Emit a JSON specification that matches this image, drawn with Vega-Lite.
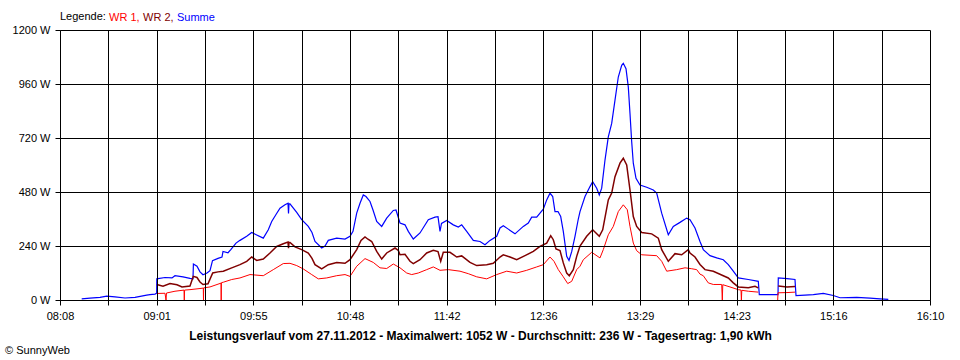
{
  "$schema": "https://vega.github.io/schema/vega-lite/v6.json",
  "width": 870,
  "height": 270,
  "autosize": "none",
  "padding": {"left": 60, "top": 30, "right": 30, "bottom": 60},
  "background": "white",
  "config": {
    "view": {"stroke": null},
    "font": "Liberation Sans"
  },
  "title": {
    "text": "© SunnyWeb",
    "orient": "bottom",
    "anchor": "start",
    "frame": "bounds",
    "font": "Liberation Sans",
    "fontSize": 11,
    "fontWeight": "normal",
    "color": "black",
    "offset": 4,
    "dx": -7
  },
  "datasets": {
    "sum": [
      {"t":500.02,"w":5},{"t":504.62,"w":8},{"t":510.16,"w":12},{"t":513.87,"w":17},{"t":518.47,"w":14},{"t":524.01,"w":9},{"t":529.55,"w":12},{"t":536.03,"w":22},{"t":537.86,"w":24},{"t":540.63,"w":26},{"t":541.57,"w":30},
      {"t":541.63,"w":94},{"t":546.17,"w":100},{"t":550.05,"w":98},{"t":551.71,"w":108},{"t":556.14,"w":103},{"t":560.02,"w":96},{"t":561.68,"w":94},{"t":561.91,"w":160},{"t":563.9,"w":150},{"t":565.56,"w":125},{"t":567.22,"w":112},{"t":569.44,"w":120},{"t":571.1,"w":130},{"t":572.49,"w":175},{"t":575.54,"w":185},{"t":577.75,"w":191},{"t":578.31,"w":216},{"t":581.08,"w":210},{"t":582.74,"w":225},{"t":585.51,"w":253},{"t":587.72,"w":265},{"t":591.44,"w":283},{"t":594.21,"w":300},{"t":596.98,"w":289},{"t":600.63,"w":275},{"t":603.4,"w":312},{"t":605.29,"w":349},{"t":607.67,"w":380},{"t":609.88,"w":408},{"t":612.65,"w":423},{"t":614.32,"w":430},{"t":614.6,"w":385},{"t":614.87,"w":427},{"t":615.42,"w":427},{"t":619.14,"w":389},{"t":621.91,"w":357},{"t":625.56,"w":327},{"t":627.61,"w":300},{"t":629.28,"w":260},{"t":632.99,"w":231},{"t":634.82,"w":240},{"t":636.64,"w":265},{"t":641.3,"w":275},{"t":645.9,"w":271},{"t":648.67,"w":283},{"t":650.33,"w":305},{"t":652.38,"w":386},{"t":654.21,"w":430},{"t":656.03,"w":467},{"t":657.53,"w":460},{"t":659.75,"w":438},{"t":661.41,"w":400},{"t":663.46,"w":349},{"t":666.23,"w":327},{"t":669.0,"w":364},{"t":672.66,"w":398},{"t":674.15,"w":400},{"t":676.37,"w":342},{"t":679.14,"w":334},{"t":680.97,"w":305},{"t":683.74,"w":271},{"t":687.45,"w":298},{"t":692.05,"w":357},{"t":695.76,"w":368},{"t":697.42,"w":370},{"t":698.53,"w":305},{"t":699.36,"w":340},{"t":702.24,"w":353},{"t":705.9,"w":334},{"t":708.67,"w":324},{"t":710.55,"w":334},{"t":713.32,"w":305},{"t":716.98,"w":265},{"t":720.69,"w":260},{"t":723.46,"w":246},{"t":726.23,"w":265},{"t":729.94,"w":283},{"t":731.77,"w":320},{"t":733.6,"w":330},{"t":736.37,"w":315},{"t":740.08,"w":294},{"t":744.68,"w":327},{"t":747.45,"w":342},{"t":749.33,"w":368},{"t":752.1,"w":368},{"t":753.93,"w":386},{"t":755.76,"w":404},{"t":757.64,"w":445},{"t":759.47,"w":475},{"t":760.97,"w":460},{"t":762.24,"w":393},{"t":763.9,"w":393},{"t":765.4,"w":371},{"t":766.84,"w":305},{"t":768.72,"w":194},{"t":770.0,"w":176},{"t":771.49,"w":215},{"t":773.32,"w":283},{"t":775.15,"w":360},{"t":776.09,"w":393},{"t":778.86,"w":460},{"t":781.63,"w":504},{"t":783.13,"w":526},{"t":785.34,"w":497},{"t":786.78,"w":467},{"t":788.11,"w":497},{"t":789.94,"w":622},{"t":791.77,"w":725},{"t":793.65,"w":785},{"t":795.48,"w":888},{"t":797.31,"w":991},{"t":799.19,"w":1043},{"t":800.08,"w":1052},{"t":801.58,"w":1028},{"t":802.85,"w":947},{"t":803.79,"w":829},{"t":804.73,"w":703},{"t":805.62,"w":608},{"t":807.12,"w":541},{"t":809.33,"w":511},{"t":813.04,"w":501},{"t":816.7,"w":489},{"t":818.58,"w":475},{"t":821.35,"w":386},{"t":825.01,"w":290},{"t":827.78,"w":327},{"t":831.49,"w":345},{"t":835.2,"w":364},{"t":837.03,"w":357},{"t":839.8,"w":320},{"t":842.57,"w":260},{"t":844.4,"w":224},{"t":848.11,"w":197},{"t":851.83,"w":187},{"t":855.48,"w":179},{"t":858.25,"w":157},{"t":861.02,"w":128},{"t":863.79,"w":98},{"t":869.33,"w":91},{"t":874.87,"w":83},{"t":875.43,"w":24},{"t":881.35,"w":24},{"t":885.79,"w":24},{"t":885.95,"w":98},{"t":890.77,"w":95},{"t":895.2,"w":91},{"t":895.76,"w":20},{"t":900.74,"w":22},{"t":905.34,"w":24},{"t":910.88,"w":29},{"t":916.42,"w":20},{"t":920.14,"w":10},{"t":929.39,"w":12},{"t":936.76,"w":8},{"t":942.3,"w":5},{"t":946.9,"w":3}
    ],
    "wr2": [
      {"g":1,"t":541.63,"w":69},{"g":1,"t":545.06,"w":61},{"g":1,"t":548.94,"w":73},{"g":1,"t":552.82,"w":68},{"g":1,"t":555.59,"w":58},{"g":1,"t":560.02,"w":62},{"g":1,"t":561.85,"w":105},{"g":1,"t":563.9,"w":100},{"g":1,"t":565.56,"w":80},{"g":1,"t":567.22,"w":69},{"g":1,"t":570.0,"w":72},{"g":1,"t":572.6,"w":120},{"g":1,"t":575.54,"w":125},{"g":1,"t":578.47,"w":128},{"g":1,"t":583.13,"w":143},{"g":1,"t":587.72,"w":157},{"g":1,"t":591.44,"w":172},{"g":1,"t":594.21,"w":191},{"g":1,"t":596.98,"w":176},{"g":1,"t":600.63,"w":182},{"g":1,"t":604.34,"w":209},{"g":1,"t":608.06,"w":238},{"g":1,"t":611.71,"w":250},{"g":1,"t":614.32,"w":258},{"g":1,"t":614.6,"w":230},{"g":1,"t":614.87,"w":256},{"g":1,"t":615.42,"w":256},{"g":1,"t":618.19,"w":236},{"g":1,"t":621.91,"w":224},{"g":1,"t":625.56,"w":209},{"g":1,"t":627.61,"w":185},{"g":1,"t":629.28,"w":157},{"g":1,"t":632.99,"w":138},{"g":1,"t":636.64,"w":157},{"g":1,"t":641.3,"w":167},{"g":1,"t":645.9,"w":163},{"g":1,"t":648.67,"w":179},{"g":1,"t":652.38,"w":224},{"g":1,"t":654.76,"w":265},{"g":1,"t":656.98,"w":280},{"g":1,"t":658.64,"w":270},{"g":1,"t":660.69,"w":260},{"g":1,"t":663.46,"w":216},{"g":1,"t":666.23,"w":182},{"g":1,"t":669.0,"w":209},{"g":1,"t":673.6,"w":231},{"g":1,"t":675.43,"w":220},{"g":1,"t":676.37,"w":201},{"g":1,"t":679.14,"w":203},{"g":1,"t":681.91,"w":172},{"g":1,"t":683.74,"w":162},{"g":1,"t":687.45,"w":179},{"g":1,"t":691.16,"w":209},{"g":1,"t":694.82,"w":221},{"g":1,"t":697.42,"w":215},{"g":1,"t":698.92,"w":172},{"g":1,"t":700.36,"w":212},{"g":1,"t":704.07,"w":212},{"g":1,"t":707.78,"w":191},{"g":1,"t":710.55,"w":196},{"g":1,"t":715.15,"w":167},{"g":1,"t":718.86,"w":153},{"g":1,"t":724.4,"w":157},{"g":1,"t":728.06,"w":163},{"g":1,"t":731.77,"w":191},{"g":1,"t":733.6,"w":201},{"g":1,"t":737.31,"w":191},{"g":1,"t":741.02,"w":179},{"g":1,"t":745.62,"w":197},{"g":1,"t":750.22,"w":216},{"g":1,"t":753.93,"w":238},{"g":1,"t":757.64,"w":253},{"g":1,"t":759.86,"w":286},{"g":1,"t":761.3,"w":268},{"g":1,"t":762.79,"w":227},{"g":1,"t":765.01,"w":220},{"g":1,"t":766.84,"w":165},{"g":1,"t":768.72,"w":120},{"g":1,"t":770.16,"w":108},{"g":1,"t":772.38,"w":135},{"g":1,"t":774.26,"w":194},{"g":1,"t":776.09,"w":240},{"g":1,"t":779.8,"w":283},{"g":1,"t":783.13,"w":312},{"g":1,"t":786.78,"w":283},{"g":1,"t":788.67,"w":312},{"g":1,"t":791.77,"w":445},{"g":1,"t":793.65,"w":475},{"g":1,"t":795.48,"w":548},{"g":1,"t":798.25,"w":608},{"g":1,"t":800.08,"w":630},{"g":1,"t":801.96,"w":600},{"g":1,"t":803.79,"w":489},{"g":1,"t":805.62,"w":371},{"g":1,"t":807.5,"w":327},{"g":1,"t":810.27,"w":300},{"g":1,"t":815.81,"w":294},{"g":1,"t":819.47,"w":275},{"g":1,"t":821.35,"w":224},{"g":1,"t":825.01,"w":172},{"g":1,"t":828.72,"w":206},{"g":1,"t":832.43,"w":201},{"g":1,"t":836.09,"w":224},{"g":1,"t":837.03,"w":209},{"g":1,"t":839.8,"w":191},{"g":1,"t":842.57,"w":158},{"g":1,"t":845.34,"w":135},{"g":1,"t":849.94,"w":128},{"g":1,"t":855.48,"w":108},{"g":1,"t":858.25,"w":98},{"g":1,"t":861.02,"w":76},{"g":1,"t":863.79,"w":58},{"g":1,"t":869.33,"w":54},{"g":1,"t":873.04,"w":61},{"g":1,"t":874.87,"w":54},
      {"g":2,"t":885.95,"w":62},{"g":2,"t":890.77,"w":58},{"g":2,"t":895.2,"w":60}
    ],
    "wr1": [
      {"g":1,"t":541.63,"w":29},{"g":1,"t":546.17,"w":30},{"g":1,"t":546.73,"w":0},{"g":1,"t":547.0,"w":31},{"g":1,"t":551.71,"w":39},{"g":1,"t":556.7,"w":44},{"g":1,"t":556.86,"w":0},{"g":1,"t":557.03,"w":44},{"g":1,"t":560.02,"w":46},{"g":1,"t":565.56,"w":51},{"g":1,"t":567.39,"w":53},{"g":1,"t":567.5,"w":0},{"g":1,"t":567.61,"w":54},{"g":1,"t":571.1,"w":58},{"g":1,"t":577.2,"w":75},{"g":1,"t":577.31,"w":0},{"g":1,"t":577.42,"w":77},{"g":1,"t":578.47,"w":79},{"g":1,"t":583.13,"w":91},{"g":1,"t":587.72,"w":98},{"g":1,"t":593.26,"w":113},{"g":1,"t":600.63,"w":108},{"g":1,"t":606.17,"w":135},{"g":1,"t":611.71,"w":162},{"g":1,"t":615.42,"w":163},{"g":1,"t":619.14,"w":153},{"g":1,"t":622.79,"w":138},{"g":1,"t":627.45,"w":113},{"g":1,"t":631.1,"w":94},{"g":1,"t":635.76,"w":98},{"g":1,"t":641.3,"w":108},{"g":1,"t":645.9,"w":113},{"g":1,"t":648.67,"w":105},{"g":1,"t":652.38,"w":150},{"g":1,"t":656.98,"w":184},{"g":1,"t":661.57,"w":167},{"g":1,"t":665.29,"w":143},{"g":1,"t":669.0,"w":140},{"g":1,"t":672.66,"w":160},{"g":1,"t":676.37,"w":143},{"g":1,"t":680.08,"w":120},{"g":1,"t":682.85,"w":113},{"g":1,"t":686.5,"w":120},{"g":1,"t":691.16,"w":135},{"g":1,"t":694.82,"w":147},{"g":1,"t":698.53,"w":132},{"g":1,"t":703.13,"w":135},{"g":1,"t":709.61,"w":128},{"g":1,"t":714.21,"w":117},{"g":1,"t":718.86,"w":103},{"g":1,"t":724.4,"w":94},{"g":1,"t":729.94,"w":113},{"g":1,"t":735.48,"w":128},{"g":1,"t":741.02,"w":120},{"g":1,"t":746.56,"w":132},{"g":1,"t":752.1,"w":147},{"g":1,"t":755.76,"w":157},{"g":1,"t":759.47,"w":191},{"g":1,"t":761.69,"w":172},{"g":1,"t":764.07,"w":135},{"g":1,"t":766.84,"w":103},{"g":1,"t":769.28,"w":73},{"g":1,"t":771.49,"w":83},{"g":1,"t":774.26,"w":135},{"g":1,"t":776.09,"w":150},{"g":1,"t":777.92,"w":179},{"g":1,"t":782.57,"w":212},{"g":1,"t":787.17,"w":187},{"g":1,"t":789.0,"w":224},{"g":1,"t":791.77,"w":290},{"g":1,"t":794.54,"w":327},{"g":1,"t":797.31,"w":393},{"g":1,"t":800.08,"w":423},{"g":1,"t":802.3,"w":401},{"g":1,"t":803.79,"w":327},{"g":1,"t":805.62,"w":253},{"g":1,"t":807.5,"w":219},{"g":1,"t":810.27,"w":201},{"g":1,"t":818.58,"w":197},{"g":1,"t":821.35,"w":172},{"g":1,"t":824.12,"w":128},{"g":1,"t":829.66,"w":135},{"g":1,"t":834.26,"w":143},{"g":1,"t":837.98,"w":139},{"g":1,"t":840.74,"w":135},{"g":1,"t":842.57,"w":115},{"g":1,"t":844.4,"w":108},{"g":1,"t":847.17,"w":76},{"g":1,"t":849.94,"w":69},{"g":1,"t":854.6,"w":69},{"g":1,"t":854.93,"w":0},{"g":1,"t":855.2,"w":68},{"g":1,"t":859.19,"w":58},{"g":1,"t":863.79,"w":46},{"g":1,"t":865.29,"w":44},{"g":1,"t":865.51,"w":0},{"g":1,"t":865.73,"w":43},{"g":1,"t":869.33,"w":39},{"g":1,"t":874.87,"w":35},
      {"g":2,"t":885.62,"w":0},{"g":2,"t":885.79,"w":32},{"g":2,"t":890.77,"w":33},{"g":2,"t":895.2,"w":35}
    ]
  },
  "encoding": {
    "x": {
      "field": "t",
      "type": "quantitative",
      "scale": {"domain": [488, 970], "nice": false, "zero": false},
      "axis": {
        "values": [488, 514.778, 541.556, 568.333, 595.111, 621.889, 648.667, 675.444, 702.222, 729, 755.778, 782.556, 809.333, 836.111, 862.889, 889.667, 916.444, 943.222, 970],
        "labelExpr": "(round((datum.value-488)/26.7778) % 2 == 1) ? '' : ((floor((datum.value+0.25)/60) < 10 ? '0' : '') + floor((datum.value+0.25)/60) + ':' + (floor((datum.value+0.25)%60) < 10 ? '0' : '') + floor((datum.value+0.25)%60))",
        "labelOverlap": false,
        "labelFlush": false,
        "labelFont": "Liberation Sans",
        "labelFontSize": 11,
        "labelColor": "black",
        "labelPadding": 5,
        "tickSize": 5,
        "tickColor": "black",
        "domainColor": "black",
        "grid": true,
        "gridColor": "black",
        "gridOpacity": 1,
        "zindex": 1,
        "title": "Leistungsverlauf vom 27.11.2012 - Maximalwert: 1052 W - Durchschnitt: 236 W - Tagesertrag: 1,90 kWh",
        "titleFont": "Liberation Sans",
        "titleFontSize": 12,
        "titleFontWeight": "bold",
        "titleColor": "black",
        "titleX": 420,
        "titlePadding": 9
      }
    },
    "y": {
      "field": "w",
      "type": "quantitative",
      "scale": {"domain": [0, 1200], "nice": false},
      "axis": {
        "values": [0, 240, 480, 720, 960, 1200],
        "labelExpr": "datum.value + ' W'",
        "labelFont": "Liberation Sans",
        "labelFontSize": 11,
        "labelColor": "black",
        "labelPadding": 5,
        "tickSize": 5,
        "tickColor": "black",
        "domainColor": "black",
        "grid": true,
        "gridColor": "black",
        "gridOpacity": 1,
        "zindex": 1,
        "title": null
      }
    }
  },
  "layer": [
    {
      "mark": {"type": "rule", "color": "#808080", "strokeWidth": 1},
      "encoding": {"x": null, "y": {"datum": 235.5, "type": "quantitative"}}
    },
    {
      "data": {"name": "sum"},
      "mark": {"type": "line", "strokeWidth": 1.2},
      "encoding": {
        "color": {
          "datum": "Summe",
          "type": "nominal",
          "scale": {"domain": ["WR 1", "WR 2", "Summe"], "range": ["#ff0000", "#800000", "#0000ff"]},
          "legend": {
            "orient": "none",
            "legendX": 0,
            "legendY": -18,
            "direction": "horizontal",
            "title": "Legende:",
            "titleOrient": "left",
            "titleFont": "Liberation Sans",
            "titleFontSize": 11,
            "titleFontWeight": "normal",
            "titleColor": "black",
            "titlePadding": 3,
            "labelFont": "Liberation Sans",
            "labelFontSize": 11,
            "labelOffset": -11,
            "columnPadding": 3,
            "symbolSize": 0.01,
            "symbolOpacity": 0,
            "symbolStrokeWidth": 0,
            "labelExpr": "datum.label == 'Summe' ? datum.label : datum.label + ','",
            "encode": {"labels": {"update": {"fill": {"scale": "color", "field": "value"}}}}
          }
        }
      }
    },
    {
      "data": {"name": "wr2"},
      "mark": {"type": "line", "strokeWidth": 1.5},
      "encoding": {
        "color": {"datum": "WR 2", "type": "nominal"},
        "detail": {"field": "g", "type": "nominal"}
      }
    },
    {
      "data": {"name": "wr1"},
      "mark": {"type": "line", "strokeWidth": 1},
      "encoding": {
        "color": {"datum": "WR 1", "type": "nominal"},
        "detail": {"field": "g", "type": "nominal"}
      }
    }
  ]
}
